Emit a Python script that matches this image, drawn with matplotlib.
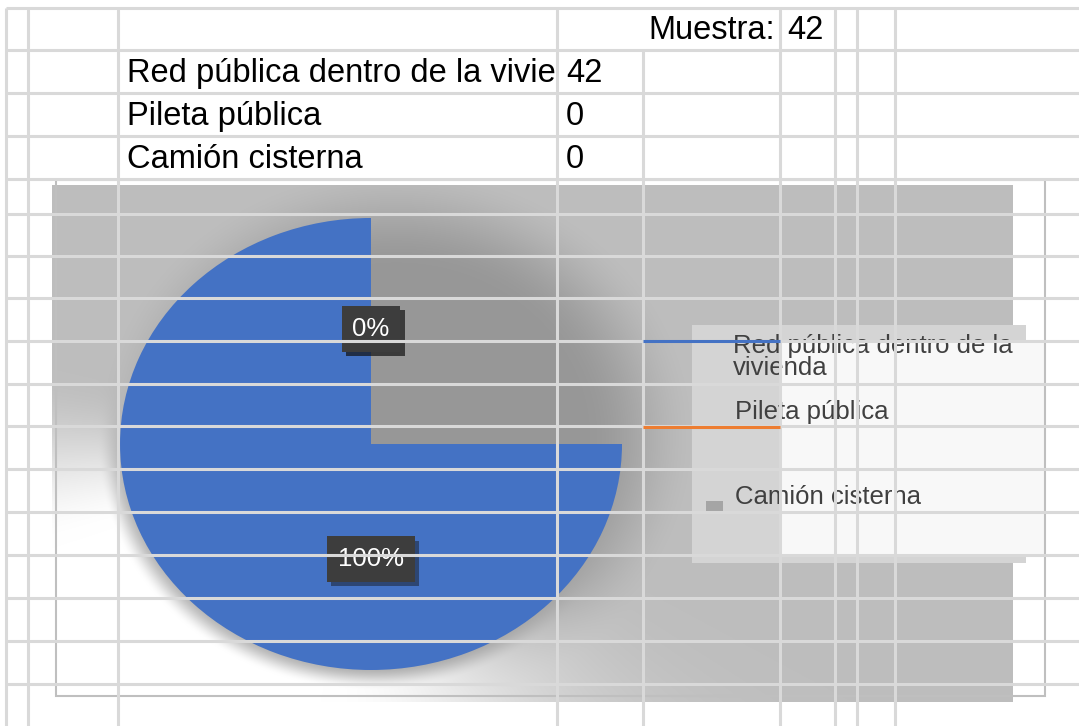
import numpy as np
import matplotlib
matplotlib.use('Agg')
import matplotlib.pyplot as plt
from matplotlib.patches import Rectangle
import matplotlib.patheffects as pe

# ---------------- data ----------------
categories = ['Red pública dentro de la vivienda', 'Pileta pública', 'Camión cisterna']
cell_labels = ['Red pública dentro de la vivie', 'Pileta pública', 'Camión cisterna']  # as shown in the cells
values = [42, 0, 0]
colors = ['#4472C4', '#ED7D31', '#A5A5A5']
sample_label = 'Muestra:'
sample_size = 42
legend_lines = [['Red pública dentro de la', 'vivienda'], ['Pileta pública'], ['Camión cisterna']]

W, H = 1079, 726
fig = plt.figure(figsize=(W / 100, H / 100), dpi=100)
fig.patch.set_facecolor('white')
FONT = 'Liberation Sans'


def px_axes(x0, y0, x1, y1, **kw):
    return fig.add_axes([x0 / W, 1 - y1 / H, (x1 - x0) / W, (y1 - y0) / H], **kw)


cx, cy, rx, ry = 371, 444, 251, 226  # pie ellipse in pixels


def smooth(a, b, t):
    t = np.clip((t - a) / (b - a), 0, 1)
    return t * t * (3 - 2 * t)


def shade(X, Y):
    u = (X - cx) / rx
    v = (cy - Y) / ry
    d = np.hypot(u, v)
    sd = np.hypot(u - 0.1, v - 0.03)
    S = 1 - smooth(0.75, 1.22, sd)
    val = 0.745 - 0.15 * S
    phi = np.degrees(np.arctan2(v, u))
    sdelta = (phi + 125 + 180) % 360 - 180  # signed angle from lower-left direction
    delta = np.abs(sdelta)
    g_left = smooth(0, 1, (95 - delta) / 70)
    g_right = smooth(0, 1, (70 - delta) / 35)
    wgt = np.where(sdelta < 0, g_right, g_left)
    G = wgt * smooth(0.99, 1.09, d)
    val = val + (1 - val) * G
    return np.dstack([val, val, val])


# ---------------- background layer ----------------
ax_bg = fig.add_axes([0, 0, 1, 1], zorder=0)
ax_bg.axis('off')

bx0, bx1, by0, by1 = 52, 1013, 185, 702
X, Y = np.meshgrid(np.arange(bx0, bx1) + 0.5, np.arange(by0, by1) + 0.5)
ax_bg.imshow(shade(X, Y), extent=(bx0, bx1, by1, by0), interpolation='bilinear', zorder=0)
ax_bg.set_aspect('auto')
ax_bg.set_xlim(0, W)
ax_bg.set_ylim(H, 0)

# legend panel
ax_bg.add_patch(Rectangle((692, 325), 334, 238, fc='#D4D4D4', ec='none', zorder=1))
ax_bg.add_patch(Rectangle((780, 342), 265, 213, fc='#F8F8F8', ec='none', zorder=1))
ax_bg.text(733, 346, legend_lines[0][0], va='center', ha='left', fontsize=18.5,
           color='#404040', family=FONT, zorder=2)
ax_bg.text(733, 368, legend_lines[0][1], va='center', ha='left', fontsize=18.5,
           color='#404040', family=FONT, zorder=2)
ax_bg.text(735, 412, legend_lines[1][0], va='center', ha='left', fontsize=18.5,
           color='#404040', family=FONT, zorder=2)
ax_bg.text(735, 497, legend_lines[2][0], va='center', ha='left', fontsize=18.5,
           color='#404040', family=FONT, zorder=2)
ax_bg.add_patch(Rectangle((706, 501), 17, 11, fc=colors[2], ec='none', zorder=2))

# table text
ax_bg.text(775, 39, sample_label, ha='right', va='baseline', fontsize=23.5, family=FONT, color='black')
ax_bg.text(787, 39, str(sample_size), ha='left', va='baseline', fontsize=23.5, family=FONT, color='black')
row_base = [82, 125, 168]
for name, val_, yb in zip(cell_labels, values, row_base):
    ax_bg.text(127, yb, name, ha='left', va='baseline', fontsize=23.5, family=FONT,
               color='black', zorder=3)
    ax_bg.text(566, yb, str(val_), ha='left', va='baseline', fontsize=23.5, family=FONT,
               color='black', zorder=5)

# ---------------- pie layer ----------------
ax_pie = px_axes(cx - rx, cy - ry, cx + rx, cy + ry, zorder=1)
ax_pie.set_facecolor('none')
wedges, texts, autotexts = ax_pie.pie(
    values, colors=colors, startangle=90, counterclock=False,
    autopct=lambda p: f'{p:.0f}%', pctdistance=0.51, radius=1,
    wedgeprops=dict(linewidth=0),
    textprops=dict(color='white', fontsize=18.5, family=FONT))
# rendering glitch of the original: upper-right quadrant shows the background
QX, QY = np.meshgrid(np.arange(cx, cx + rx) + 0.5, np.arange(cy - ry, cy) + 0.5)
ax_pie.imshow(shade(QX, QY), extent=(0, 1, 0, 1), interpolation='bilinear', zorder=2)
ax_pie.set_aspect('auto')
ax_pie.set_xlim(-1, 1)
ax_pie.set_ylim(-1, 1)
ax_pie.axis('off')
for t in autotexts:
    t.set_zorder(5)
    t.set_bbox(dict(boxstyle='square,pad=0.42', fc='#3D3D3D', ec='none'))
    t.get_bbox_patch().set_path_effects([pe.SimplePatchShadow(offset=(3, -3), alpha=0.45), pe.Normal()])

# ---------------- overlay: spreadsheet grid ----------------
ax_ov = fig.add_axes([0, 0, 1, 1], zorder=2)
ax_ov.set_xlim(0, W)
ax_ov.set_ylim(H, 0)
ax_ov.axis('off')
ax_ov.patch.set_alpha(0)

grid_c = '#D9D9D9'
vlines = [(6, 8), (28, 8), (118, 8), (557, 8), (643, 50), (780, 8), (835, 8), (857, 8), (895, 8)]
for x, ys0 in vlines:
    ax_ov.plot([x, x], [ys0, H], color=grid_c, lw=2.2, solid_capstyle='butt')
hlines = [8, 50, 93, 136, 179, 214, 256, 298, 341, 384, 426, 469, 512, 555, 598, 641, 684]
for y in hlines:
    ax_ov.plot([6, W], [y, y], color=grid_c, lw=2.2, solid_capstyle='butt')

# chart frame
ax_ov.add_patch(Rectangle((56, 180), 989, 516, fill=False, ec='#BFBFBF', lw=1.5))

# legend line keys
ax_ov.plot([643, 780], [341, 341], color=colors[0], lw=2.2, solid_capstyle='butt')
ax_ov.plot([643, 780], [427, 427], color=colors[1], lw=2.2, solid_capstyle='butt')

fig.savefig('out.png', dpi=100)
